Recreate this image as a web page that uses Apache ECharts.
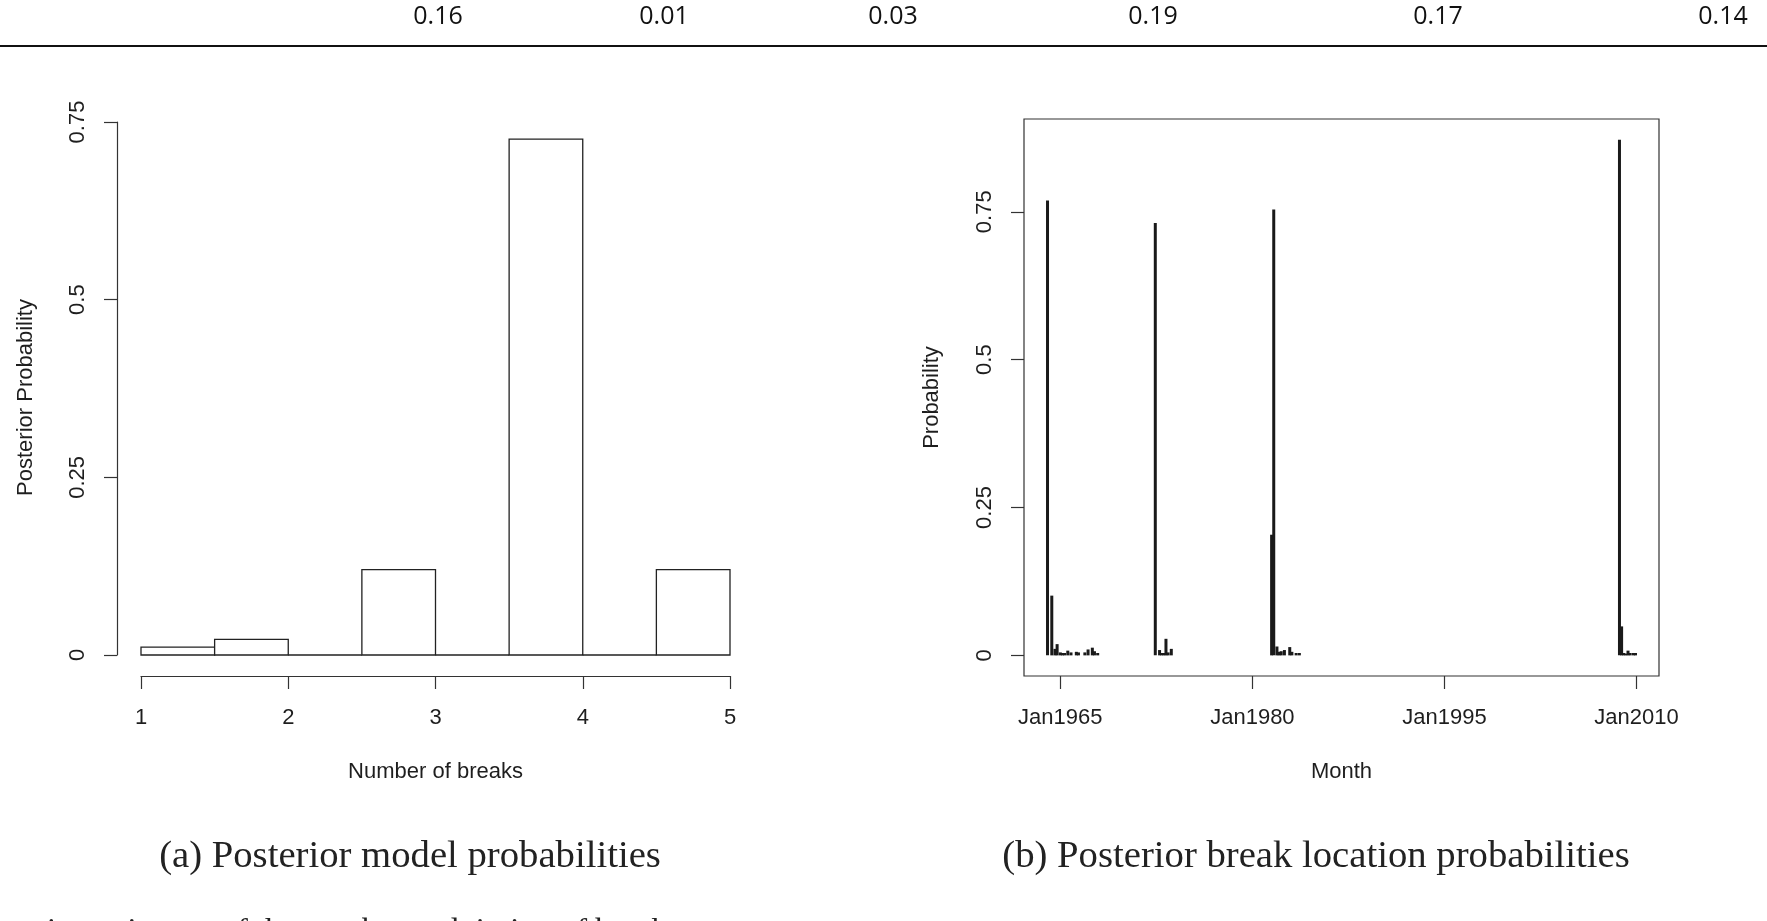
<!DOCTYPE html>
<html><head><meta charset="utf-8">
<script src="https://cdn.jsdelivr.net/npm/echarts@6/dist/echarts.min.js"></script>
<style>html,body{margin:0;padding:0;background:#fff;overflow:hidden}#c{width:1767px;height:921px}</style>
</head><body><div id="c"></div>
<script>
// ---- Panel (a): posterior model probabilities (histogram of number of breaks)
const binEdges = [1, 1.5, 2, 2.5, 3, 3.5, 4, 4.5, 5];
const binProbs = [0.011, 0.022, 0, 0.12, 0, 0.726, 0, 0.12];
const breakCountTicks = [1, 2, 3, 4, 5];
const modelProbTicks = [0, 0.25, 0.5, 0.75];

// ---- Panel (b): posterior break location probabilities (monthly)
const breakMonths = [
  '1964-01','1964-05','1964-08','1964-10','1965-01','1965-03','1965-05','1965-08','1965-11',
  '1966-04','1966-06','1966-12','1967-03','1967-07','1967-09','1967-12',
  '1972-06','1972-10','1972-12','1973-02','1973-04','1973-06','1973-09',
  '1981-07','1981-09','1981-12','1982-02','1982-04','1982-07','1982-12','1983-02','1983-06','1983-09',
  '2008-09','2008-11','2009-01','2009-03','2009-05','2009-07','2009-10','2009-12'
];
const breakProbs = [
  0.769, 0.101, 0.011, 0.019, 0.005, 0.004, 0.004, 0.008, 0.005,
  0.006, 0.005, 0.005, 0.010, 0.013, 0.007, 0.004,
  0.731, 0.009, 0.004, 0.004, 0.028, 0.005, 0.011,
  0.204, 0.754, 0.015, 0.006, 0.007, 0.009, 0.014, 0.006, 0.004, 0.004,
  0.872, 0.049, 0.004, 0.003, 0.008, 0.004, 0.004, 0.004
];
const monthTickYears = [1965, 1980, 1995, 2010];
const locProbTicks = [0, 0.25, 0.5, 0.75];
const monthRange = ['1964-01', '2009-12'];

// ---- Surrounding text from the page
const tableRowValues = ['0.16', '0.01', '0.03', '0.19', '0.17', '0.14'];
const subCaptions = ['(a) Posterior model probabilities', '(b) Posterior break location probabilities'];
const figCaption = 'sterior estimates of the number and timing of breaks';

// ---------------------------------------------------------------
function monthToYear(s) { const p = s.split('-'); return +p[0] + (+p[1] - 1) / 12; }
const firstM = monthToYear(monthRange[0]), lastM = monthToYear(monthRange[1]);
const extX = (lastM - firstM) * 0.04;
const maxProb = Math.max.apply(null, breakProbs);
const extY = maxProb * 0.04;

const histData = binProbs.map((p, i) => [binEdges[i], binEdges[i + 1], p]);
const spikeData = breakMonths.map((m, i) => [monthToYear(m), breakProbs[i]]);

const AX = '#333', TXT = '#1e1e1e', SANS = '"Liberation Sans", Arial, sans-serif';
const FS = 22;

const chart = echarts.init(document.getElementById('c'), null, {renderer: 'canvas'});

const tableX = [438, 664, 893, 1153, 1438, 1723];
const graphics = [];
tableRowValues.forEach((t, i) => graphics.push({
  type: 'text', x: tableX[i], y: 17,
  style: {text: t, font: '25px "Open Sans", sans-serif', fill: '#111', textAlign: 'center', textVerticalAlign: 'middle', align: 'center', verticalAlign: 'middle'}
}));
graphics.push({type: 'line', shape: {x1: 0, y1: 46, x2: 1767, y2: 46}, style: {stroke: '#111', lineWidth: 2}});
const capX = [410, 1316];
subCaptions.forEach((t, i) => graphics.push({
  type: 'text', x: capX[i], y: 857,
  style: {text: t, font: '38.7px "Liberation Serif", "Times New Roman", serif', fill: '#222', textAlign: 'center', textVerticalAlign: 'middle', align: 'center', verticalAlign: 'middle'}
}));
graphics.push({
  type: 'text', x: 0, y: 931,
  style: {text: figCaption, font: '32.6px "Liberation Serif", serif', fill: '#222', textAlign: 'left', textVerticalAlign: 'middle', align: 'left', verticalAlign: 'middle'}
});

const axisTextStyle = {fontSize: FS, fontFamily: SANS, color: TXT};

chart.setOption({
  animation: false,
  backgroundColor: '#fff',
  grid: [
    {left: 141, right: 1767 - 730, top: 122, bottom: 921 - 655, show: false},
    {left: 1024, right: 1767 - 1659, top: 119, bottom: 921 - 676, show: true, borderColor: AX, borderWidth: 1.2, backgroundColor: 'transparent'}
  ],
  xAxis: [
    {gridIndex: 0, type: 'value', min: 1, max: 5, interval: 1, offset: 21,
     axisLine: {show: true, onZero: false, lineStyle: {color: AX, width: 1.2}},
     axisTick: {show: true, inside: false, length: 13, lineStyle: {color: AX, width: 1.2}},
     axisLabel: Object.assign({margin: 31}, axisTextStyle),
     splitLine: {show: false},
     name: 'Number of breaks', nameLocation: 'middle', nameGap: 85, nameTextStyle: axisTextStyle},
    {gridIndex: 1, type: 'value', min: firstM - extX, max: lastM + extX,
     axisLine: {show: false, onZero: false},
     axisTick: {show: true, inside: false, length: 13, customValues: monthTickYears, lineStyle: {color: AX, width: 1.2}},
     axisLabel: Object.assign({margin: 31, customValues: monthTickYears, formatter: v => 'Jan' + v}, axisTextStyle),
     splitLine: {show: false},
     name: 'Month', nameLocation: 'middle', nameGap: 85, nameTextStyle: axisTextStyle}
  ],
  yAxis: [
    {gridIndex: 0, type: 'value', min: 0, max: 0.75, interval: 0.25, offset: 24,
     axisLine: {show: true, lineStyle: {color: AX, width: 1.2}},
     axisTick: {show: true, inside: false, length: 13, lineStyle: {color: AX, width: 1.2}},
     axisLabel: Object.assign({margin: 28, rotate: 90}, axisTextStyle),
     splitLine: {show: false},
     name: 'Posterior Probability', nameLocation: 'middle', nameGap: 80,
     nameTextStyle: Object.assign({padding: [0, 18, 0, 0]}, axisTextStyle)},
    {gridIndex: 1, type: 'value', min: -extY, max: maxProb + extY,
     axisLine: {show: false},
     axisTick: {show: true, inside: false, length: 13, customValues: locProbTicks, lineStyle: {color: AX, width: 1.2}},
     axisLabel: Object.assign({margin: 28, rotate: 90, customValues: locProbTicks}, axisTextStyle),
     splitLine: {show: false},
     name: 'Probability', nameLocation: 'middle', nameGap: 81, nameTextStyle: axisTextStyle}
  ],
  series: [
    {type: 'custom', xAxisIndex: 0, yAxisIndex: 0, data: histData,
     encode: {x: [0, 1], y: 2},
     renderItem: function (params, api) {
       const a = api.coord([api.value(0), 0]);
       const b = api.coord([api.value(1), api.value(2)]);
       return {type: 'rect', shape: {x: a[0], y: b[1], width: b[0] - a[0], height: a[1] - b[1]},
               style: {fill: '#fff', stroke: '#222', lineWidth: 1.3}};
     }},
    {type: 'custom', xAxisIndex: 1, yAxisIndex: 1, data: spikeData,
     encode: {x: 0, y: 1},
     renderItem: function (params, api) {
       const a = api.coord([api.value(0), 0]);
       const b = api.coord([api.value(0), api.value(1)]);
       return {type: 'line', shape: {x1: a[0], y1: a[1], x2: b[0], y2: b[1]},
               style: {stroke: '#1a1a1a', lineWidth: 3, lineCap: 'butt'}};
     }}
  ],
  graphic: graphics
});
</script></body></html>
